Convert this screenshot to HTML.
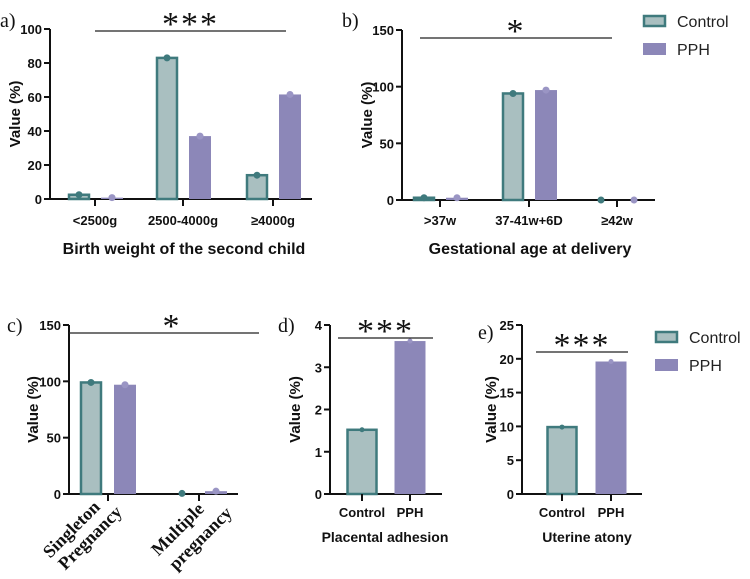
<!DOCTYPE html>
<html><head><meta charset="utf-8"><style>
body{margin:0;background:#fff;}
svg{display:block;font-family:"Liberation Sans",sans-serif;}
.tk{font-size:13px;font-weight:bold;fill:#111;}
.yt{font-size:15px;font-weight:bold;fill:#111;}
.ttl{font-size:16px;font-weight:bold;fill:#111;}
.ttl2{font-size:14px;font-weight:bold;fill:#111;}
.pl{font-family:"Liberation Serif",serif;font-size:20px;fill:#111;}
.star{font-family:"Liberation Serif",serif;font-size:34px;fill:#111;letter-spacing:2px;}
.lg{font-size:16px;fill:#222;}
.rot{font-family:"Liberation Serif",serif;font-size:18px;font-weight:bold;fill:#111;}
</style></head><body>
<svg id="s" width="750" height="579" viewBox="0 0 750 579" xmlns="http://www.w3.org/2000/svg"></svg>
<script>
// Panel a
const aCats=["<2500g","2500-4000g","≥4000g"];
const aControl=[2.5,83,14];
const aPPH=[0.8,37,61.5];
const aTicks=[0,20,40,60,80,100];
// Panel b
const bCats=[">37w","37-41w+6D","≥42w"];
const bControl=[2,94,0];
const bPPH=[2,97,0];
const bTicks=[0,50,100,150];
// Panel c
const cCats=["Singleton Pregnancy","Multiple pregnancy"];
const cControl=[99,0.5];
const cPPH=[97,2.5];
const cTicks=[0,50,100,150];
// Panel d
const dCats=["Control","PPH"];
const dValues=[1.52,3.62];
const dTicks=[0,1,2,3,4];
// Panel e
const eCats=["Control","PPH"];
const eValues=[9.9,19.6];
const eTicks=[0,5,10,15,20,25];

const NS="http://www.w3.org/2000/svg";
const svg=document.getElementById('s');
const CF="#a9bfc0",CS="#3f7a7d",PF="#8c87b8",PD="#9a95c4";
function mk(t,a,p){const e=document.createElementNS(NS,t);for(const k in a)e.setAttribute(k,a[k]);(p||svg).appendChild(e);return e;}
function txt(x,y,s,cls,anchor,p){const e=mk('text',{x:x,y:y,class:cls,'text-anchor':anchor||'middle'},p);e.textContent=s;return e;}

function panel(o){
  const g=mk('g',{});
  
  
  const ymax=o.ticks[o.ticks.length-1];
  const Y=v=>o.y0-(v/ymax)*(o.y0-o.ytop);
  const ax=mk('line',{x1:o.ax,y1:o.ytop,x2:o.ax,y2:o.y0+1,stroke:'#111','stroke-width':2},g);
  
  const xl=mk('line',{x1:o.ax-6,y1:o.y0,x2:o.xend,y2:o.y0,stroke:'#111','stroke-width':2},g);
  
  o.ticks.forEach(t=>{
    mk('line',{x1:o.ax-6,y1:Y(t),x2:o.ax,y2:Y(t),stroke:'#111','stroke-width':2},g);
    const tl=txt(o.ax-8,Y(t)+5,String(t),'tk','end',g);
    
  });
  const yt=txt(0,0,'Value (%)','yt','middle',g);
  yt.setAttribute('transform',`translate(${o.ytx},${(o.y0+o.ytop)/2}) rotate(-90)`);
  
  o.series.forEach(s=>{
    s.vals.forEach((v,i)=>{
      const ci=(s.idx!=null)?s.idx:i;
      const cx=o.centers[ci]+s.off;
      const top=Y(v);
      if(s.ctrl){
        if(v>0.6){const r=mk('rect',{x:cx-o.bw/2+1,y:top,width:o.bw-2,height:o.y0-top,fill:CF,stroke:CS,'stroke-width':2.5},g);
        }
      }else{
        const r=mk('rect',{x:cx-o.bw/2,y:top,width:o.bw,height:Math.max(o.y0-top,0),fill:PF},g);
        
      }
      if(o.dots){const d=mk('circle',{cx:cx,cy:top,r:o.dr||3.5,fill:s.ctrl?CS:PD},g);
      }
    });
  });
  o.centers.forEach((c,i)=>{
    mk('line',{x1:c,y1:o.y0,x2:c,y2:o.y0+7,stroke:'#111','stroke-width':2},g);
    if(!o.rotLabels){const tl=txt(c,o.tly,o.cats[i],'tk','middle',g);
    }
  });
  const sl=mk('line',{x1:o.sig[0],y1:o.sig[2],x2:o.sig[1],y2:o.sig[2],stroke:'#222','stroke-width':1.3},g);
  
  const st=txt((o.sig[0]+o.sig[1])/2+(o.starDx||0),o.sig[2]+o.starDy,o.star,'star','middle',g);
  
  const pl=txt(o.pl[0],o.pl[1],o.plabel,'pl','start',g);
  
  if(o.title){const t=txt(o.title[0],o.title[1],o.title[2],o.title[3],'middle',g);
  }
  return g;
}

panel({name:'panel-a-birth-weight',ax:50,y0:199,ytop:29,xend:312,ticks:aTicks,ytx:20,
  centers:[95,183,273],bw:22,cats:aCats,tly:225,dots:true,
  series:[{vals:aControl,off:-16,ctrl:true},{vals:aPPH,off:17}],
  sig:[95,286,31],star:'***',starDy:4,pl:[0,27],plabel:'a)',
  title:[184,254,'Birth weight of the second child','ttl']});
panel({name:'panel-b-gestational-age',ax:402,y0:200,ytop:30,xend:655,ticks:bTicks,ytx:372,
  centers:[440,529,617],bw:22,cats:bCats,tly:225,dots:true,
  series:[{vals:bControl,off:-16,ctrl:true},{vals:bPPH,off:17}],
  sig:[420,612,38],star:'*',starDy:4,pl:[342,27],plabel:'b)',
  title:[530,254,'Gestational age at delivery','ttl']});
const gc=panel({name:'panel-c-pregnancy-type',ax:69,y0:494,ytop:325,xend:238,ticks:cTicks,ytx:38,
  centers:[108,199],bw:22,cats:cCats,tly:0,dots:true,rotLabels:true,
  series:[{vals:cControl,off:-17,ctrl:true},{vals:cPPH,off:17}],
  sig:[69,259,333],star:'*',starDy:4,starDx:8,pl:[7,332],plabel:'c)'});
[["Singleton",101,508],["Pregnancy",123,513],["Multiple",205,510],["pregnancy",233,514]].forEach(l=>{
  const t=txt(0,0,l[0],'rot','end',gc);
  t.setAttribute('transform',`translate(${l[1]},${l[2]}) rotate(-45)`);
  
});
panel({name:'panel-d-placental-adhesion',ax:330,y0:494,ytop:325,xend:442,ticks:dTicks,ytx:300,
  centers:[362,410],bw:31,cats:dCats,tly:517,dots:true,dr:2.5,
  series:[{vals:[dValues[0]],idx:0,off:0,ctrl:true},{vals:[dValues[1]],idx:1,off:0}],
  sig:[338,433,338],star:'***',starDy:4,pl:[278,332],plabel:'d)',
  title:[385,542,'Placental adhesion','ttl2']});
panel({name:'panel-e-uterine-atony',ax:522,y0:494,ytop:325,xend:642,ticks:eTicks,ytx:496,
  centers:[562,611],bw:31,cats:eCats,tly:517,dots:true,dr:2.5,
  series:[{vals:[eValues[0]],idx:0,off:0,ctrl:true},{vals:[eValues[1]],idx:1,off:0}],
  sig:[536,628,352],star:'***',starDy:4,pl:[478,339],plabel:'e)',
  title:[587,542,'Uterine atony','ttl2']});

function legend(x,y,name){
  const g=mk('g',{});
  
  
  const r1=mk('rect',{x:x+1,y:y+1,width:21,height:10,fill:CF,stroke:CS,'stroke-width':2.5},g);
  
  const t1=txt(x+34,y+12,'Control','lg','start',g);
  
  const r2=mk('rect',{x:x,y:y+28,width:23,height:12,fill:PF},g);
  
  const t2=txt(x+34,y+40,'PPH','lg','start',g);
  
}
legend(643,15,'legend-top');
legend(655,331,'legend-bottom');
</script>
</body></html>
